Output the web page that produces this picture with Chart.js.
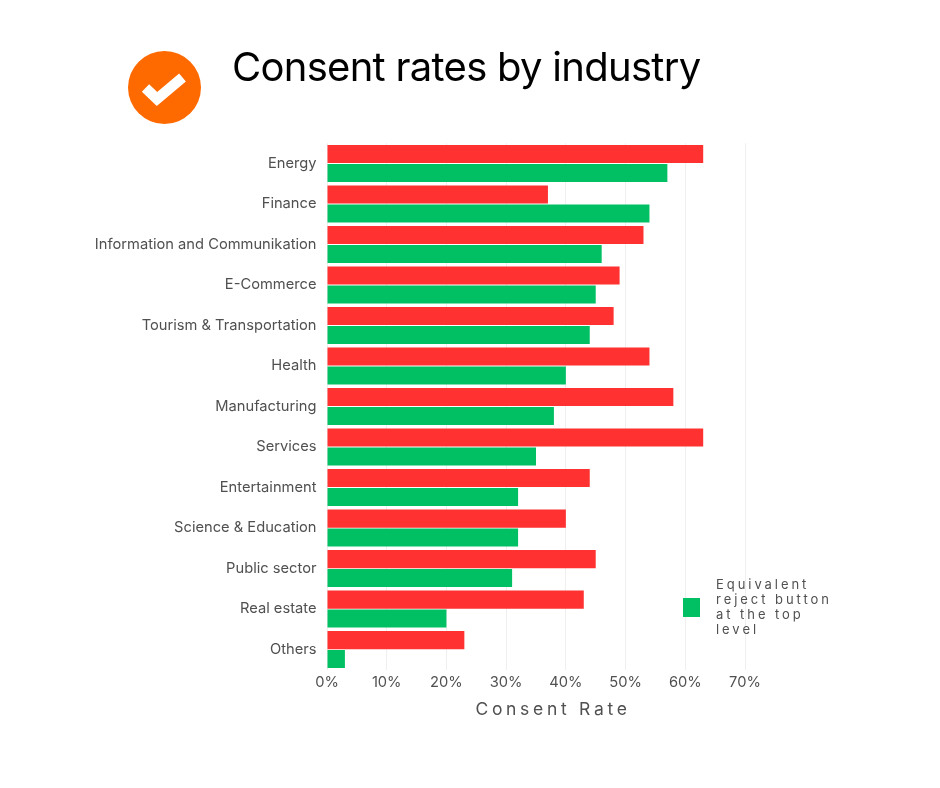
<!DOCTYPE html>
<html><head><meta charset="utf-8">
<script src="https://cdn.jsdelivr.net/npm/chart.js@4"></script>
<style>
html,body{margin:0;padding:0;background:#fff;width:940px;height:788px;overflow:hidden;font-family:Inter,sans-serif}
#wrap{position:absolute;left:0;top:0;width:940px;height:788px}
#title{position:absolute;left:232px;top:42px;font:400 40px Inter,sans-serif;color:#000;white-space:nowrap;letter-spacing:-0.72px}
#icon{position:absolute;left:128px;top:51px}
#legend{position:absolute;left:683px;top:577px;width:160px;height:60px}
#swatch{position:absolute;left:0;top:21px;width:17px;height:19px;background:#00c063}
#ltext{position:absolute;left:33px;top:0;font:400 13px/15px Inter,sans-serif;color:#505050;letter-spacing:2.95px;white-space:nowrap}
</style></head>
<body><div id="wrap"><canvas id="c" width="940" height="788"></canvas>
<svg id="icon" width="73" height="73" viewBox="0 0 73 73"><circle cx="36.5" cy="36.5" r="36.5" fill="#ff6a00"/><path d="M17.5 37 L29 48 L54.5 26.5" fill="none" stroke="#fff" stroke-width="10.5" stroke-linejoin="miter" stroke-linecap="butt"/></svg>
<div id="title">Consent rates by industry</div>
<div id="legend"><div id="swatch"></div><div id="ltext">Equivalent<br>reject button<br>at the top<br>level</div></div>
</div>
<script>
const categories=["Energy","Finance","Information and Communikation","E-Commerce","Tourism & Transportation","Health","Manufacturing","Services","Entertainment","Science & Education","Public sector","Real estate","Others"];
const noRejectValues=[63,37,53,49,48,54,58,63,44,40,45,43,23];
const rejectValues=[57,54,46,45,44,40,38,35,32,32,31,20,3];
const xTicks=[0,10,20,30,40,50,60,70];
const axisTitle="Consent Rate";
const spacedTitle={id:'spacedTitle',afterDraw(ch){const c=ch.ctx,s=ch.scales.x;c.save();c.letterSpacing='3.7px';c.font='400 17.5px Inter, sans-serif';c.fillStyle='#505050';c.textAlign='center';c.textBaseline='middle';c.fillText(axisTitle,(s.left+s.right)/2+17,710);c.restore();}};
new Chart(document.getElementById('c'),{type:'bar',plugins:[spacedTitle],
data:{labels:categories,datasets:[
{label:"No equivalent reject button",data:noRejectValues,backgroundColor:'#ff3131',categoryPercentage:0.926,barPercentage:0.96},
{label:"Equivalent reject button at the top level",data:rejectValues,backgroundColor:'#00c063',categoryPercentage:0.926,barPercentage:0.96}]},
options:{indexAxis:'y',responsive:false,animation:false,devicePixelRatio:1,
layout:{padding:{left:0,right:195,top:143.25,bottom:0}},
plugins:{legend:{display:false},tooltip:{enabled:false}},
scales:{
x:{min:0,max:70,afterFit(s){s.height=118.25},afterBuildTicks(s){s.ticks=xTicks.map(v=>({value:v}))},
grid:{color:'#efefef',drawTicks:false},border:{display:false},
ticks:{color:'#505050',padding:4.5,maxRotation:0,font:{family:'Inter',size:14.7},callback:v=>v+'%'}},
y:{afterFit(s){s.width=327},grid:{display:false},border:{display:false},
ticks:{color:'#505050',padding:2.5,autoSkip:false,font:{family:'Inter',size:14.7}}}
}}});
</script></body></html>
